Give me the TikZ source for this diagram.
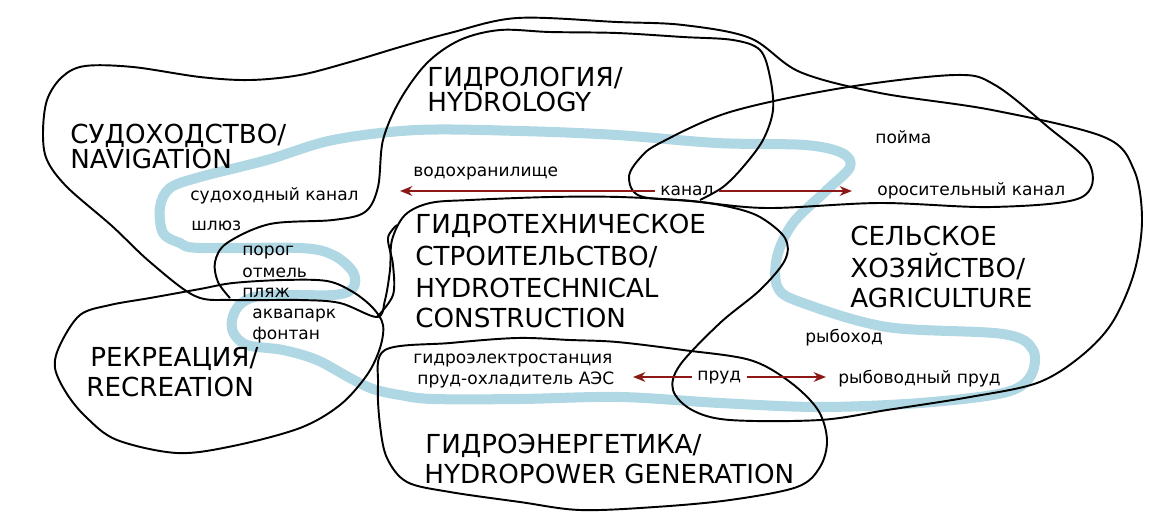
\documentclass[tikz,border=0pt]{standalone}
\usepackage{fontspec}
\setmainfont{DejaVu Sans}
\usepackage{tikz}
\usetikzlibrary{arrows.meta}
\definecolor{riverblue}{RGB}{176,216,228}
\definecolor{linkred}{RGB}{140,24,24}

\begin{document}
\begin{tikzpicture}[x=0.02cm, y=-0.02cm,
	blob/.style={line width=1.1pt, line join=round},
	river/.style={riverblue, line width=5.7pt, line join=round},
	bigtext/.style={anchor=base west, inner sep=0pt, font=\fontsize{14.9}{17}\selectfont},
	smalltext/.style={anchor=base west, inner sep=0pt, font=\fontsize{9.7}{12}\selectfont},
	midtext/.style={anchor=west, inner sep=0pt, font=\fontsize{9.7}{12}\selectfont},
	link/.style={linkred, line width=1.1pt, shorten <=3pt, -{Stealth[length=7pt,width=5.5pt]}}]
	\useasboundingbox (0,0) rectangle (1167,525);
	\fill[white] (0,0) rectangle (1167,525);

	\draw[river] plot[smooth cycle, tension=0.55] coordinates {(520,131) (417,130) (333,140) (267,160) (200,177) (170,188) (160,207) (163,233) (180,243) (200,248) (300,248) (333,255) (353,272) (353,288) (333,295) (267,295) (243,302) (233,316) (233,332) (247,345) (283,350) (317,360) (350,378) (373,389) (400,395) (433,399) (520,399) (620,397) (720,403) (820,407) (920,403) (1003,393) (1030,377) (1033,350) (1003,334) (887,327) (803,303) (778,288) (777,257) (793,223) (827,190) (850,167) (842,153) (805,145) (717,143) (617,135)};

	\draw[blob] plot[smooth cycle, tension=0.55] coordinates {(377,317) (340,303) (300,300) (233,300) (195,296) (150,262) (112,226) (67,187) (47,160) (43,133) (47,100) (62,77) (85,66) (133,67) (200,77) (250,80) (300,75) (350,62) (400,47) (450,33) (517,18) (617,22) (683,25) (750,38) (800,72) (880,93) (992,110) (1104,137) (1134,170) (1142,220) (1134,273) (1112,323) (1080,357) (1037,383) (970,397) (887,410) (820,420) (730,420) (692,410) (673,390) (680,365) (720,323) (760,290) (785,260) (785,238) (760,217) (730,207) (690,201) (620,197) (550,197) (470,200) (430,203) (405,215) (392,240) (390,270) (385,300)};
	\draw[blob] plot[smooth, tension=0.55] coordinates {(230,298) (218,282) (215,262) (227,243) (270,224) (333,220) (365,212) (378,187) (383,140) (400,100) (427,63) (460,40) (500,30) (550,32) (617,33) (683,37) (733,40) (760,50) (770,77) (773,110) (763,140) (743,167) (723,187) (700,200)};
	\draw[blob] plot[smooth, tension=0.55] coordinates {(377,317) (393,295) (393,265) (388,238) (397,225)};
	\draw[blob] plot[smooth cycle, tension=0.55] coordinates {(629,177) (640,158) (660,143) (730,112) (842,88) (955,75) (995,85) (1048,127) (1090,165) (1080,198) (992,207) (880,203) (767,208) (692,201) (640,196)};
	\draw[blob] plot[smooth cycle, tension=0.55] coordinates {(110,305) (80,315) (60,345) (55,368) (67,394) (87,418) (117,440) (177,453) (233,446) (300,428) (340,405) (367,375) (380,348) (383,325) (373,308) (353,292) (327,281) (283,280) (233,283) (200,289) (150,298)};
	\draw[blob] plot[smooth cycle, tension=0.55] coordinates {(385,350) (450,343) (517,338) (570,340) (617,342) (683,350) (750,360) (790,382) (818,410) (827,440) (820,467) (797,487) (730,500) (655,507) (580,510) (520,502) (450,492) (407,482) (387,458) (380,425) (378,385)};

	\node[bigtext] (hydro1) at (427,86) {ГИДРОЛОГИЯ/};
	\node[bigtext] (hydro2) at (427,111) {HYDROLOGY};
	\node[bigtext] (nav1) at (70,143) {СУДОХОДСТВО/};
	\node[bigtext] (nav2) at (70,168) {NAVIGATION};
	\node[bigtext] (tech1) at (415,233) {ГИДРОТЕХНИЧЕСКОЕ};
	\node[bigtext] (tech2) at (415,265) {СТРОИТЕЛЬСТВО/};
	\node[bigtext] (tech3) at (415,297) {HYDROTECHNICAL};
	\node[bigtext] (tech4) at (415,327) {CONSTRUCTION};
	\node[bigtext] (agri1) at (850,245) {СЕЛЬСКОЕ};
	\node[bigtext] (agri2) at (850,277) {ХОЗЯЙСТВО/};
	\node[bigtext] (agri3) at (850,307) {AGRICULTURE};
	\node[bigtext] (rec1) at (90,366) {РЕКРЕАЦИЯ/};
	\node[bigtext] (rec2) at (86,396) {RECREATION};
	\node[bigtext] (power1) at (425,453) {ГИДРОЭНЕРГЕТИКА/};
	\node[bigtext] (power2) at (424,483) {HYDROPOWER GENERATION};

	\node[smalltext] (reservoir) at (413,176) {водохранилище};
	\node[smalltext] (floodplain) at (875,143) {пойма};
	\node[smalltext] (shipcanal) at (190,200) {судоходный канал};
	\node[smalltext] (irrigation) at (877,195) {оросительный канал};
	\node[smalltext] (lock) at (191,230) {шлюз};
	\node[smalltext] (rapids) at (242,255) {порог};
	\node[smalltext] (shoal) at (242,277) {отмель};
	\node[smalltext] (beach) at (242,297) {пляж};
	\node[smalltext] (aquapark) at (252,318) {аквапарк};
	\node[smalltext] (fountain) at (252,339) {фонтан};
	\node[smalltext] (fishway) at (805,342) {рыбоход};
	\node[smalltext] (plant) at (413,363) {гидроэлектростанция};
	\node[smalltext] (cooling) at (417,384) {пруд-охладитель АЭС};
	\node[smalltext] (fishpond) at (838,383) {рыбоводный пруд};
	\node[midtext] (kanal) at (660,191) {канал};
	\node[midtext] (prud) at (697,377) {пруд};

	\coordinate (kanalL) at (400,191);
	\coordinate (kanalR) at (852,191);
	\coordinate (prudL) at (633,377);
	\coordinate (prudR) at (826,377);
	\draw[link] (kanal.west) -- (kanalL);
	\draw[link] (kanal.east) -- (kanalR);
	\draw[link] (prud.west) -- (prudL);
	\draw[link] (prud.east) -- (prudR);
\end{tikzpicture}
\end{document}
